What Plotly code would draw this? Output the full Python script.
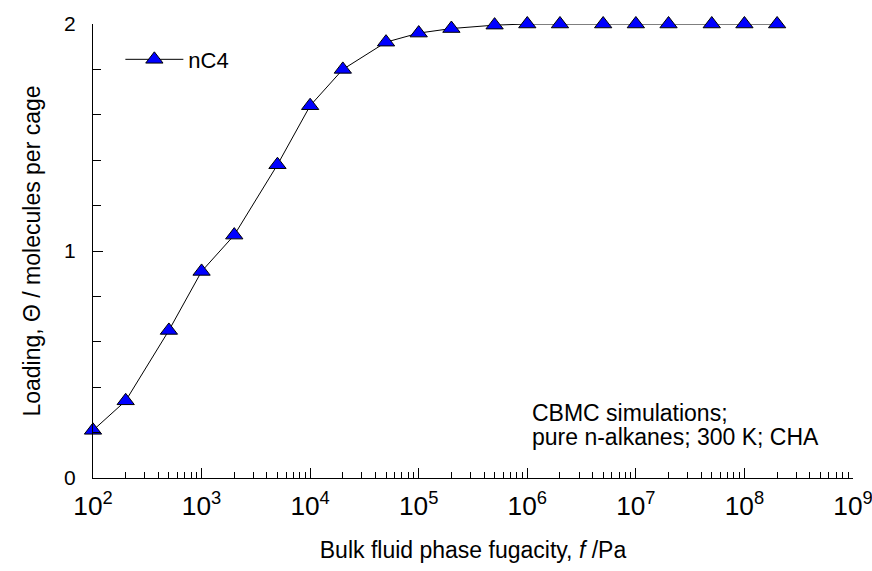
import plotly.graph_objects as go

fugacity = [1e2, 2e2, 5e2, 1e3, 2e3, 5e3, 1e4, 2e4, 5e4, 1e5, 2e5, 5e5,
            1e6, 2e6, 5e6, 1e7, 2e7, 5e7, 1e8, 2e8]
loading = [0.21, 0.34, 0.65, 0.91, 1.07, 1.38, 1.64, 1.80, 1.92, 1.96, 1.98, 1.995,
           2.0, 2.0, 2.0, 2.0, 2.0, 2.0, 2.0, 2.0]
series_name = "nC4"
note_lines = ["CBMC simulations;", "pure n-alkanes; 300 K; CHA"]

FONT = "Liberation Sans, Arial, sans-serif"

fig = go.Figure()
fig.add_trace(go.Scatter(
    x=fugacity, y=loading, name=series_name, mode="lines+markers",
    line=dict(color="black", width=1),
    marker=dict(symbol="triangle-up", size=15, color="#0000FF",
                line=dict(color="black", width=1)),
    cliponaxis=False,
))

fig.update_layout(
    width=872, height=571,
    margin=dict(l=93, r=19, t=24, b=93),
    plot_bgcolor="white", paper_bgcolor="white",
    font=dict(family=FONT, size=21, color="black"),
    showlegend=True,
    legend=dict(x=0.036, y=0.968, xanchor="left", yanchor="top", itemwidth=58,
                bgcolor="rgba(0,0,0,0)", font=dict(size=22)),
    xaxis=dict(
        type="log", range=[2, 9], showgrid=False, zeroline=False, automargin=False,
        showline=True, linecolor="black", linewidth=1,
        ticks="inside", ticklen=10, tickcolor="black", tickwidth=1,
        dtick=1, exponentformat="power", ticklabelstandoff=6, ticklabeloverflow="allow",
        tickfont=dict(size=21),
        minor=dict(ticks="inside", ticklen=6, tickcolor="black", tickwidth=1, dtick="D1", showgrid=False),
        title=dict(text="Bulk fluid phase fugacity, <i>f</i> /Pa", font=dict(size=23), standoff=21),
    ),
    yaxis=dict(
        range=[0, 2], showgrid=False, zeroline=False, automargin=False,
        showline=True, linecolor="black", linewidth=1,
        ticks="inside", ticklen=10, tickcolor="black", tickwidth=1,
        tickvals=[0, 1, 2], ticklabelstandoff=12, ticklabeloverflow="allow",
        tickfont=dict(size=21),
        minor=dict(ticks="inside", ticklen=8, tickcolor="black", tickwidth=1, dtick=0.2, showgrid=False),
        title=dict(text="Loading, Θ / molecules per cage", font=dict(size=23), standoff=17),
    ),
)

for i, line in enumerate(note_lines):
    fig.add_annotation(
        x=(530 - 93) / 760, y=(478 - (413 + 24 * i)) / 454, xref="paper", yref="paper",
        xanchor="left", yanchor="middle", text=line, showarrow=False, align="left",
        font=dict(size=23),
    )

fig.write_html("out.html")
